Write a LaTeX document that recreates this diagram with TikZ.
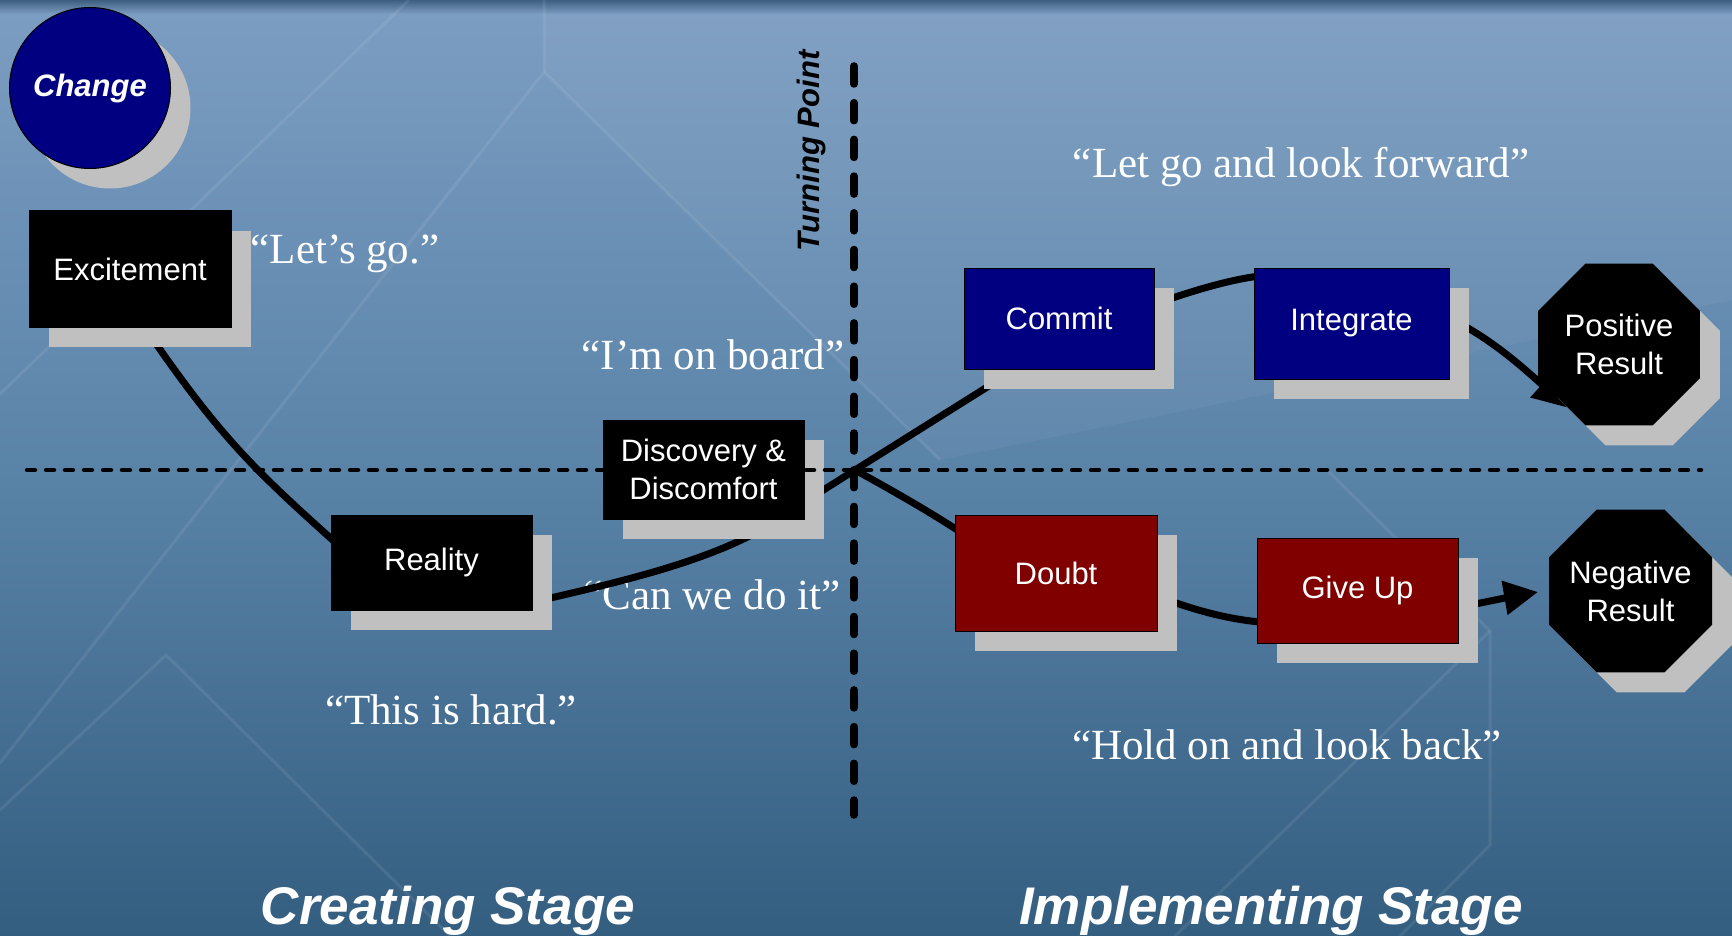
\documentclass[tikz,border=0pt]{standalone}
\usepackage{fontspec}
\setmainfont{Liberation Serif}
\setsansfont{Liberation Sans}
\usetikzlibrary{shapes.geometric,arrows.meta,calc}

\definecolor{bgtop}{HTML}{7C9DC2}
\definecolor{bgmid}{HTML}{5A83A8}
\definecolor{bgbot}{HTML}{345E80}
\definecolor{bgedge}{HTML}{3E5E80}
\definecolor{navybox}{HTML}{000080}
\definecolor{maroonbox}{HTML}{800000}
\definecolor{shadowgray}{HTML}{C0C0C0}

\pgfdeclarelayer{bg}
\pgfdeclarelayer{wires}
\pgfdeclarelayer{shadows}
\pgfdeclarelayer{guides}
\pgfsetlayers{bg,wires,shadows,guides,main}

\newcommand{\diagboxfont}{\sffamily\fontsize{31pt}{38pt}\selectfont}
\newcommand{\diagquotefont}{\rmfamily\fontsize{43pt}{43pt}\selectfont}
\newcommand{\diagstagefont}{\sffamily\bfseries\itshape\fontsize{53pt}{53pt}\selectfont}

\begin{document}
\begin{tikzpicture}[x=1pt,y=-1pt,
  stagebox/.style={rectangle, draw=black, line width=1pt, inner sep=0pt,
    outer sep=0pt, text=white, align=center, font=\diagboxfont},
  octbox/.style={regular polygon, regular polygon sides=8, fill=black,
    inner sep=0pt, outer sep=0pt},
  octtext/.style={text=white, align=center, font=\diagboxfont, inner sep=0pt},
  quote/.style={anchor=base, text=white, font=\diagquotefont},
  stagelabel/.style={anchor=base, text=white, font=\diagstagefont},
  link/.style={draw=black, line width=7pt},
  linkarrow/.style={link, -{Triangle[length=34pt,width=33pt]}},
  guide/.style={draw=black, line cap=round},
  panel/.style={draw=white, opacity=0.08, line width=3pt}]

\useasboundingbox (0,0) rectangle (1732,936);

% ---------- background ----------
\begin{pgfonlayer}{bg}
  \shade[top color=bgtop, bottom color=bgmid] (0,10) rectangle (1732,471);
  \shade[top color=bgmid, bottom color=bgbot] (0,470) rectangle (1732,936);
  \shade[top color=bgedge, bottom color=bgtop] (0,0) rectangle (1732,14);
  \begin{scope}
    \clip (0,0) rectangle (1732,936);
    \fill[white, opacity=0.04] (544,14) -- (1732,14) -- (1732,300) -- (940,460) -- (544,72) -- cycle;
    \draw[panel] (409,0) -- (0,394);
    \draw[panel] (544,0) -- (544,72) -- (0,763);
    \draw[panel] (544,72) -- (940,460);
    \draw[panel] (0,810) -- (166,655) -- (450,936);
    \draw[panel] (1325,468) -- (1490,631) -- (1490,845) -- (1400,936);
    \draw[panel] (1490,631) -- (1175,936);
  \end{scope}

  % quotations
  \node[quote] (qlets)    at (345,263)  {“Let’s go.”};
  \node[quote] (qboard)   at (713,369)  {“I’m on board”};
  \node[quote] (qforward) at (1301,178) {“Let go and look forward”};
  \node[quote] (qcando)   at (712,609)  {“Can we do it”};
  \node[quote] (qhard)    at (451,724)  {“This is hard.”};
  \node[quote] (qback)    at (1287,759) {“Hold on and look back”};
\end{pgfonlayer}

% ---------- nodes ----------
\node[circle, draw=black, line width=1pt, fill=navybox, minimum size=161pt,
      inner sep=0pt, outer sep=0pt, text=white,
      font=\sffamily\bfseries\itshape\fontsize{31pt}{31pt}\selectfont]
      (change) at (90,88) {Change};

\node[stagebox, fill=black, minimum width=202pt, minimum height=116pt]
      (exc) at (130,269) {Excitement};
\node[stagebox, fill=black, minimum width=201pt, minimum height=95pt]
      (real) at (431.5,562.5) {Reality};
\node[stagebox, fill=black, minimum width=201pt, minimum height=99pt]
      (disc) at (703.5,469.5) {Discovery \&\\Discomfort};
\node[stagebox, fill=navybox, minimum width=190pt, minimum height=101pt]
      (commit) at (1059,318.5) {Commit};
\node[stagebox, fill=navybox, minimum width=195pt, minimum height=111pt]
      (integ) at (1351.5,323.5) {Integrate};
\node[stagebox, fill=maroonbox, minimum width=202pt, minimum height=116pt]
      (doubt) at (1056,573) {Doubt};
\node[stagebox, fill=maroonbox, minimum width=201pt, minimum height=105pt]
      (giveup) at (1357.5,590.5) {Give Up};
\node[octbox, minimum size=175.3pt,
      label={[octtext]center:Positive\\Result}] (pos) at (1619,344.5) {};
\node[octbox, minimum size=176.4pt,
      label={[octtext]center:Negative\\Result}] (neg) at (1630.5,591) {};

% ---------- drop shadows ----------
\begin{pgfonlayer}{shadows}
  \foreach \n in {exc,real,disc,commit,integ,doubt,giveup}
    \fill[shadowgray] ($(\n.south west)+(20,20)$) rectangle ($(\n.north east)+(20,20)$);
  \node[circle, fill=shadowgray, minimum size=161pt, inner sep=0pt]
        at ($(change.center)+(20,20)$) {};
  \node[octbox, fill=shadowgray, minimum size=175.3pt]
        at ($(pos.center)+(20,20)$) {};
  \node[octbox, fill=shadowgray, minimum size=176.4pt]
        at ($(neg.center)+(20,20)$) {};
\end{pgfonlayer}

% ---------- turning point guides ----------
\coordinate (hl) at (27,470);
\coordinate (hr) at (1701,470);
\coordinate (vt) at (854,66);
\coordinate (vb) at (854,815);
\coordinate (tp) at (855,470);
\begin{pgfonlayer}{guides}
  \draw[guide, line width=4.5pt, dash pattern=on 8pt off 11pt] (hl) -- (hr);
  \draw[guide, line width=7.5pt, dash pattern=on 18pt off 18.7pt] (vt) -- (vb);
\end{pgfonlayer}

\node[rotate=90, anchor=base, text=black,
      font=\sffamily\bfseries\itshape\fontsize{31pt}{31pt}\selectfont]
      (turn) at (819,151) {Turning Point};

% ---------- connectors ----------
\begin{pgfonlayer}{wires}
  \draw[link] ($(exc.south)+(20,8)$) .. controls (223,441) and (258,473)
        .. ($(real.west)+(10,-15)$);
  \draw[link] ($(real.east)+(8,38)$) .. controls (610,584) and (690,566)
        .. ($(disc.south)+(46,17)$);
  \draw[link] ($(disc.east)+(6,29)$) -- (tp) -- ($(commit.south west)+(36,10)$);
  \draw[link] (tp) .. controls (895,492) and (930,512) .. ($(doubt.west)+(10,-38)$);
  \draw[link] ($(commit.east)+(11,-18)$) .. controls (1190,292) and (1230,279)
        .. ($(integ.west)+(10,-48)$);
  \draw[link] ($(doubt.east)+(11,27)$) .. controls (1195,610) and (1230,620)
        .. ($(giveup.west)+(9,32)$);
  \draw[linkarrow] ($(integ.east)+(11,0)$) .. controls (1490,340) and (1515,360)
        .. ($(pos.center)+(-52,63)$);
  \draw[linkarrow] ($(giveup.east)+(10,15)$) .. controls (1490,601) and (1515,596)
        .. ($(neg.west)+(-11,1)$);
\end{pgfonlayer}

% ---------- stage titles ----------
\node[stagelabel] (creating) at (448,924) {Creating Stage};
\node[stagelabel] (implementing) at (1271,924) {Implementing Stage};

\end{tikzpicture}
\end{document}
